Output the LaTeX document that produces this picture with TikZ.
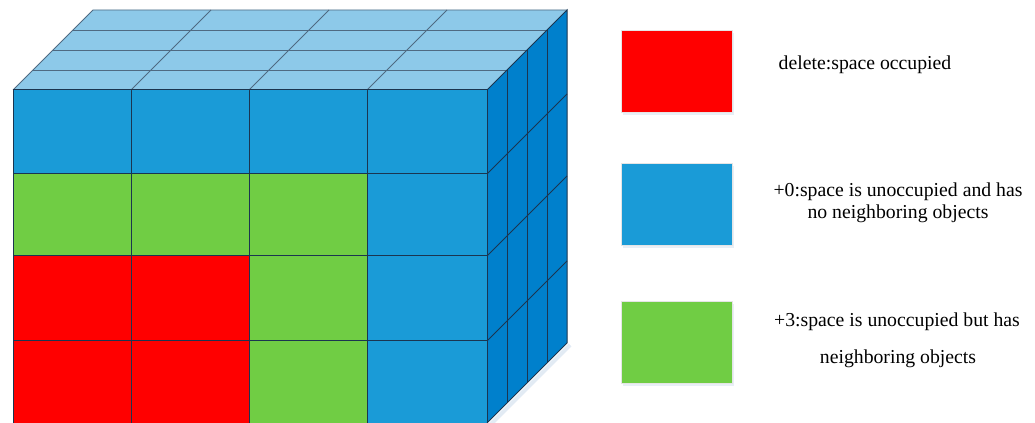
\documentclass[tikz,border=0pt]{standalone}
\usepackage{fontspec}
\setmainfont{Liberation Serif}
\definecolor{frontblue}{HTML}{1A9BD7}
\definecolor{topblue}{HTML}{8DC9E9}
\definecolor{sideblue}{HTML}{0080CC}
\definecolor{cred}{HTML}{FF0000}
\definecolor{cgreen}{HTML}{70CD44}
\definecolor{edgec}{HTML}{1B3550}
\definecolor{topedge}{HTML}{4F6A82}
\definecolor{shadowc}{HTML}{E2EBF4}
\tikzset{
  gridline/.style={draw=edgec, line width=0.75pt},
  topline/.style={draw=topedge, line width=0.7pt},
  legendbox/.style={minimum width=111*0.75pt, minimum height=82*0.75pt, inner sep=0pt, draw=black!10, line width=0.4pt},
  legendtext/.style={anchor=base, inner sep=0pt, font=\fontsize{14.8pt}{17pt}\selectfont}
}
\begin{document}
\begin{tikzpicture}[x=0.75pt,y=-0.75pt]
\useasboundingbox (0,0) rectangle (1035,423);
% shadow of cube
\draw[shadowc, line width=3pt] (490,425) -- (570,345);
% front face cells
\def\xs{{13,131,249,367,487}}
\def\ys{{90,174,256,341,423}}
\foreach \r/\c/\col in {0/0/frontblue,0/1/frontblue,0/2/frontblue,0/3/frontblue,
                       1/0/cgreen,1/1/cgreen,1/2/cgreen,1/3/frontblue,
                       2/0/cred,2/1/cred,2/2/cgreen,2/3/frontblue,
                       3/0/cred,3/1/cred,3/2/cgreen,3/3/frontblue}{
  \pgfmathsetmacro{\xa}{\xs[\c]}
  \pgfmathsetmacro{\xb}{\xs[\c+1]}
  \pgfmathsetmacro{\ya}{\ys[\r]}
  \pgfmathsetmacro{\yb}{\ys[\r+1]}
  \fill[\col] (\xa,\ya) rectangle (\xb,\yb);
}
\foreach \x in {131,249,367}{\draw[gridline] (\x,90) -- (\x,423);}
\foreach \y in {174,256,341}{\draw[gridline] (13,\y) -- (487,\y);}
\draw[gridline] (13,423) -- (13,90) -- (487,90) -- (487,423);
% top face
\fill[topblue] (13,90) -- (487,90) -- (567,10) -- (93,10) -- cycle;
\foreach \k in {1,2,3}{\draw[topline] (13+20*\k,90-20*\k) -- (487+20*\k,90-20*\k);}
\foreach \x in {131,249,367}{\draw[topline] (\x,90) -- (\x+80,10);}
\draw[topline] (13,90) -- (93,10) -- (567,10);
% right face
\fill[sideblue] (487,90) -- (567,10) -- (567,343) -- (487,423) -- cycle;
\foreach \k in {1,2,3}{\draw[gridline] (487+20*\k,90-20*\k) -- (487+20*\k,423-20*\k);}
\foreach \y in {174,256,341}{\draw[gridline] (487,\y) -- (567,\y-80);}
\draw[gridline] (487,90) -- (567,10) -- (567,343) -- (487,423);
\draw[gridline] (13,90) -- (487,90) -- (487,423);
% legend
\foreach \y in {30,163,301}{\fill[shadowc, opacity=0.8] (623,\y+3) rectangle (734,\y+85);}
\node[legendbox, fill=cred, anchor=north west] (lred) at (621,30) {};
\node[legendbox, fill=frontblue, anchor=north west] (lblue) at (621,163) {};
\node[legendbox, fill=cgreen, anchor=north west] (lgreen) at (621,301) {};
\node[legendtext] (tred) at (865,70) {delete:space occupied};
\node[legendtext] (tblue1) at (898,197) {+0:space is unoccupied and has};
\node[legendtext] (tblue2) at (898,219) {no neighboring objects};
\node[legendtext] (tgreen1) at (897,327) {+3:space is unoccupied but has};
\node[legendtext] (tgreen2) at (898,364) {neighboring objects};
\end{tikzpicture}
\end{document}
